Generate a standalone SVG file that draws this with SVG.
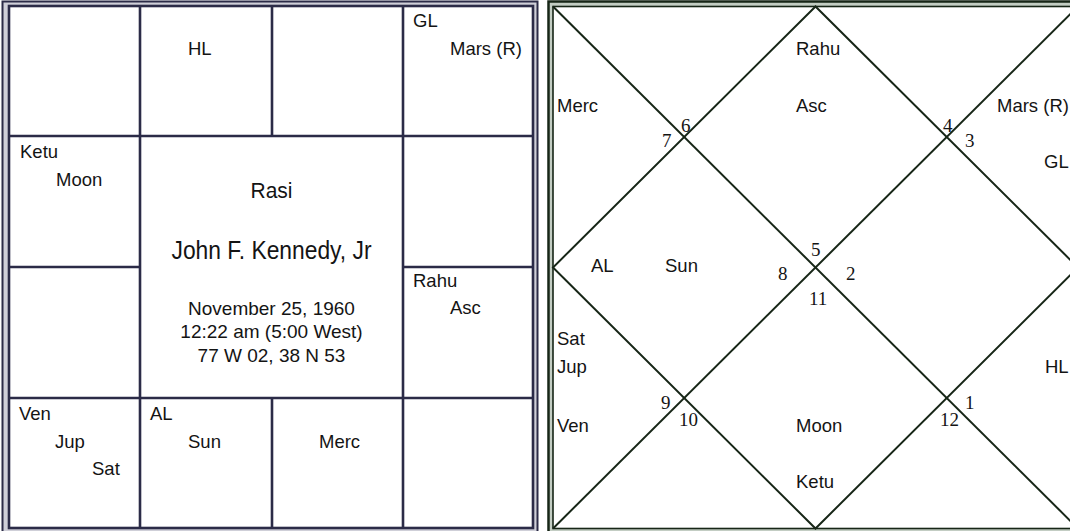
<svg xmlns="http://www.w3.org/2000/svg" width="1070" height="531" viewBox="0 0 1070 531">
<style>
.lbl{font-family:"Liberation Sans",Arial,sans-serif;font-size:18.5px;fill:#141414}
.num{font-family:"Liberation Serif","Times New Roman",serif;font-size:19px;fill:#141414}
.ctr{font-family:"Liberation Sans",Arial,sans-serif;fill:#141414;text-anchor:middle}
.lg{stroke:#2b2b47;stroke-width:2.6;fill:none}
.rg{stroke:#172617;stroke-width:2;fill:none}
</style>
<rect x="0" y="0" width="1070" height="531" fill="#ffffff"/>
<!-- Left chart (Rasi, South Indian) -->
<g id="rasi-frame">
<rect x="2.5" y="1.5" width="535" height="532" fill="#cfcfd8" stroke="#2b2b47" stroke-width="2"/>
<rect x="9" y="6" width="524" height="522" fill="#ffffff" stroke="#2b2b47" stroke-width="2.6"/>
</g>
<g id="rasi-grid" class="lg">
<line x1="140" y1="6" x2="140" y2="528"/>
<line x1="403" y1="6" x2="403" y2="528"/>
<line x1="272" y1="6" x2="272" y2="136"/>
<line x1="272" y1="398" x2="272" y2="528"/>
<line x1="9" y1="136" x2="533" y2="136"/>
<line x1="9" y1="398" x2="533" y2="398"/>
<line x1="9" y1="267" x2="140" y2="267"/>
<line x1="403" y1="267" x2="533" y2="267"/>
</g>
<g id="rasi-house-top2"><text class="lbl" x="188" y="55">HL</text></g>
<g id="rasi-house-top4"><text class="lbl" x="413" y="27">GL</text><text class="lbl" x="450" y="55">Mars (R)</text></g>
<g id="rasi-house-left1"><text class="lbl" x="20" y="158">Ketu</text><text class="lbl" x="56" y="186">Moon</text></g>
<g id="rasi-house-right2"><text class="lbl" x="413" y="287">Rahu</text><text class="lbl" x="450" y="314">Asc</text></g>
<g id="rasi-house-bot1"><text class="lbl" x="19" y="420">Ven</text><text class="lbl" x="55" y="448">Jup</text><text class="lbl" x="92" y="475">Sat</text></g>
<g id="rasi-house-bot2"><text class="lbl" x="150" y="420">AL</text><text class="lbl" x="188" y="448">Sun</text></g>
<g id="rasi-house-bot3"><text class="lbl" x="319" y="448">Merc</text></g>
<g id="rasi-center">
<text class="ctr" x="271.5" y="198" font-size="22" textLength="42" lengthAdjust="spacingAndGlyphs">Rasi</text>
<text class="ctr" x="271.5" y="259" font-size="26" textLength="200" lengthAdjust="spacingAndGlyphs">John F. Kennedy, Jr</text>
<text class="ctr" x="271.5" y="315" font-size="19">November 25, 1960</text>
<text class="ctr" x="271.5" y="338" font-size="19">12:22 am (5:00 West)</text>
<text class="ctr" x="271.5" y="362" font-size="19">77 W 02, 38 N 53</text>
</g>
<!-- Right chart (North Indian) -->
<g id="north-frame">
<rect x="548.5" y="1.5" width="530" height="531" fill="#c3cdc3" stroke="#172617" stroke-width="2.5"/>
<rect x="553" y="6.5" width="525" height="522" fill="#ffffff" stroke="#172617" stroke-width="1.6"/>
</g>
<g id="connectors" class="rg">
<line x1="553" y1="6.5" x2="1078" y2="528.5"/>
<line x1="1078" y1="6.5" x2="553" y2="528.5"/>
<polygon points="815.5,6.5 553,267.5 815.5,528.5 1078,267.5"/>
</g>
<g id="north-h1"><text class="lbl" x="796" y="55">Rahu</text><text class="lbl" x="796" y="112">Asc</text></g>
<g id="north-h2"><text class="lbl" x="557" y="112">Merc</text></g>
<g id="north-h3"><text class="lbl" x="997" y="112">Mars (R)</text><text class="lbl" x="1044" y="168">GL</text></g>
<g id="north-h4"><text class="lbl" x="591" y="272">AL</text><text class="lbl" x="665" y="272">Sun</text></g>
<g id="north-h5"><text class="lbl" x="557" y="345">Sat</text><text class="lbl" x="557" y="373">Jup</text><text class="lbl" x="557" y="432">Ven</text></g>
<g id="north-h6"><text class="lbl" x="1045" y="373">HL</text></g>
<g id="north-h7"><text class="lbl" x="796" y="432">Moon</text><text class="lbl" x="796" y="488">Ketu</text></g>
<g id="north-numbers">
<text class="num" x="662" y="147">7</text>
<text class="num" x="681" y="132">6</text>
<text class="num" x="943" y="132">4</text>
<text class="num" x="965" y="147">3</text>
<text class="num" x="778" y="280">8</text>
<text class="num" x="811" y="256">5</text>
<text class="num" x="846" y="280">2</text>
<text class="num" x="809" y="305">11</text>
<text class="num" x="661" y="409">9</text>
<text class="num" x="679" y="426">10</text>
<text class="num" x="965" y="409">1</text>
<text class="num" x="940" y="426">12</text>
</g>
</svg>
